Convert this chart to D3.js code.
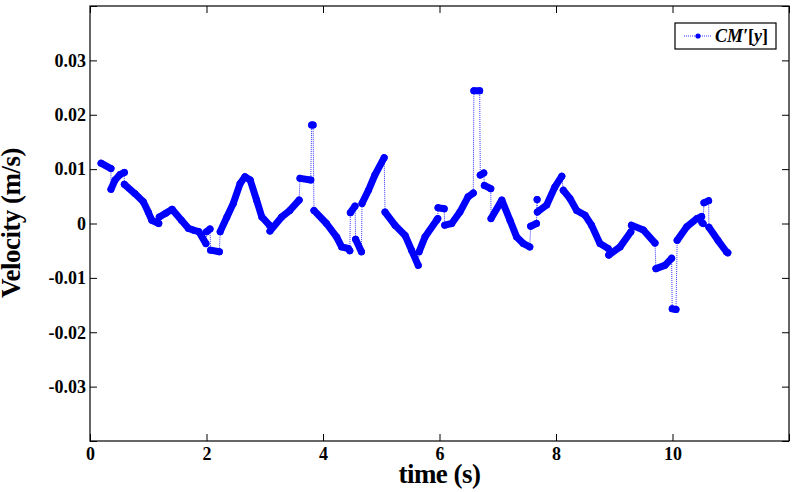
<!DOCTYPE html>
<html>
<head>
<meta charset="utf-8">
<script src="https://cdn.jsdelivr.net/npm/d3@7"></script>
<style>
  body { margin: 0; background: #fff; }
  svg { display: block; }
  text { font-family: "Liberation Serif", "Times New Roman", serif; font-weight: bold; }
</style>
</head>
<body>
<svg id="diagram" width="794" height="492"></svg>
<script>
// time (s), velocity (m/s), and which continuous run each sample belongs to
var time = [
  0.19, 0.36,
  0.36, 0.43, 0.515, 0.59,
  0.59, 0.77, 0.915, 1.00, 1.06, 1.18,
  1.19, 1.30, 1.41, 1.57, 1.69, 1.77, 1.87, 1.99,
  2.00, 2.06,
  2.07, 2.22,
  2.235, 2.35, 2.46, 2.575, 2.66, 2.75, 2.86, 2.95, 3.08,
  3.09, 3.29, 3.43, 3.59,
  3.605, 3.79,
  3.805, 3.83,
  3.845, 4.06, 4.235, 4.32, 4.435, 4.46,
  4.47, 4.55,
  4.56, 4.66,
  4.67, 4.78, 4.89, 5.05,
  5.065, 5.235, 5.41, 5.52, 5.635,
  5.65, 5.75, 5.95, 5.97,
  5.975, 6.08,
  6.09, 6.21, 6.35, 6.49, 6.58,
  6.59, 6.69,
  6.70, 6.76,
  6.77, 6.88,
  6.885, 7.07, 7.21, 7.325, 7.44, 7.55,
  7.565, 7.665,
  7.675,
  7.68, 7.84, 7.98, 8.10,
  8.125, 8.24, 8.355, 8.50, 8.61, 8.755, 8.895,
  8.905, 9.10, 9.285,
  9.295, 9.50, 9.70,
  9.715, 9.87, 9.985,
  9.995, 10.06,
  10.08, 10.245, 10.42, 10.50,
  10.505, 10.525,
  10.54, 10.62,
  10.625, 10.78, 10.925, 10.95
];
var velocity = [
  0.0111, 0.0101,
  0.0063, 0.0080, 0.0090, 0.0094,
  0.0072, 0.0055, 0.0040, 0.0021, 0.0006, 0.0000,
  0.0012, 0.0019, 0.0026, 0.0006, -0.0009, -0.0012, -0.0015, -0.0037,
  -0.0015, -0.0010,
  -0.0049, -0.0052,
  -0.0015, 0.0012, 0.0037, 0.0073, 0.0086, 0.0080, 0.0043, 0.0012, -0.0003,
  -0.0014, 0.0012, 0.0024, 0.0043,
  0.0083, 0.0080,
  0.0181, 0.0181,
  0.0024, 0.0000, -0.0025, -0.0043, -0.0046, -0.0050,
  0.0020, 0.0032,
  -0.0029, -0.0052,
  0.0037, 0.0061, 0.0089, 0.0121,
  0.0021, -0.0003, -0.0022, -0.0049, -0.0077,
  -0.0052, -0.0025, 0.0006, 0.0009,
  0.0029, 0.0027,
  -0.0003, 0.0000, 0.0021, 0.0049, 0.0056,
  0.0244, 0.0244,
  0.0089, 0.0093,
  0.0070, 0.0064,
  0.0009, 0.0043, 0.0006, -0.0025, -0.0037, -0.0043,
  -0.0005, 0.0000,
  0.0044,
  0.0021, 0.0034, 0.0067, 0.0087,
  0.0061, 0.0046, 0.0024, 0.0015, -0.0003, -0.0037, -0.0046,
  -0.0058, -0.0043, -0.0015,
  -0.0003, -0.0012, -0.0036,
  -0.0083, -0.0077, -0.0064,
  -0.0157, -0.0158,
  -0.0031, -0.0006, 0.0009, 0.0013,
  0.0002, 0.0000,
  0.0038, 0.0042,
  -0.0007, -0.0031, -0.0052, -0.0054
];
var segment = [
  0, 0,
  1, 1, 1, 1,
  2, 2, 2, 2, 2, 2,
  3, 3, 3, 3, 3, 3, 3, 3,
  4, 4,
  5, 5,
  6, 6, 6, 6, 6, 6, 6, 6, 6,
  7, 7, 7, 7,
  8, 8,
  9, 9,
  10, 10, 10, 10, 10, 10,
  11, 11,
  12, 12,
  13, 13, 13, 13,
  14, 14, 14, 14, 14,
  15, 15, 15, 15,
  16, 16,
  17, 17, 17, 17, 17,
  18, 18,
  19, 19,
  20, 20,
  21, 21, 21, 21, 21, 21,
  22, 22,
  23,
  24, 24, 24, 24,
  25, 25, 25, 25, 25, 25, 25,
  26, 26, 26,
  27, 27, 27,
  28, 28, 28,
  29, 29,
  30, 30, 30, 30,
  31, 31,
  32, 32,
  33, 33, 33, 33
];

var xTicks = [0, 2, 4, 6, 8, 10, 12];
var xTickLabels = ['0', '2', '4', '6', '8', '10', ''];
var yTicks = [-0.04, -0.03, -0.02, -0.01, 0, 0.01, 0.02, 0.03, 0.04];
var yTickLabels = ['', '-0.03', '-0.02', '-0.01', '0', '0.01', '0.02', '0.03', ''];

drawChart();

function drawChart() {
    var svg = d3.select("#diagram");
    var plotLeft = 90, plotRight = 789, plotTop = 6, plotBottom = 441;
    var blue = "#0000ff";

    var xScale = d3.scaleLinear().domain([0, 12]).range([plotLeft, plotRight]);
    var yScale = d3.scaleLinear().domain([-0.04, 0.04]).range([plotBottom, plotTop]);

    var points = time.map(function (t, i) {
        return { t: t, v: velocity[i], s: segment[i] };
    });
    var runs = d3.groups(points, function (d) { return d.s; }).map(function (g) { return g[1]; });

    var line = d3.line()
        .x(function (d) { return xScale(d.t); })
        .y(function (d) { return yScale(d.v); });

    // thin dotted connector (shows up at the jumps)
    svg.append("path")
        .datum(points)
        .attr("d", line)
        .attr("fill", "none")
        .attr("stroke", blue)
        .attr("stroke-width", 0.8)
        .attr("stroke-dasharray", "1,1");

    // dense dot markers look like a thick line
    svg.selectAll(".run")
        .data(runs)
        .enter().append("path")
        .attr("class", "run")
        .attr("d", line)
        .attr("fill", "none")
        .attr("stroke", blue)
        .attr("stroke-width", 7)
        .attr("stroke-linecap", "round")
        .attr("stroke-linejoin", "round");

    svg.selectAll(".dot")
        .data(points)
        .enter().append("circle")
        .attr("class", "dot")
        .attr("cx", function (d) { return xScale(d.t); })
        .attr("cy", function (d) { return yScale(d.v); })
        .attr("r", 3.5)
        .attr("fill", blue);

    // axes, ticks pointing inward
    function fmtX(d) { return xTickLabels[xTicks.indexOf(d)]; }
    function fmtY(d) {
        return yTickLabels[yTicks.findIndex(function (v) { return Math.abs(v - d) < 1e-9; })];
    }

    svg.append("g")
        .attr("transform", "translate(0," + plotBottom + ")")
        .call(d3.axisBottom(xScale).tickValues(xTicks).tickFormat(fmtX)
            .tickSizeInner(-7).tickSizeOuter(0).tickPadding(6));
    svg.append("g")
        .attr("transform", "translate(0," + plotTop + ")")
        .call(d3.axisTop(xScale).tickValues(xTicks).tickFormat("")
            .tickSizeInner(-7).tickSizeOuter(0));
    svg.append("g")
        .attr("transform", "translate(" + plotLeft + ",0)")
        .call(d3.axisLeft(yScale).tickValues(yTicks).tickFormat(fmtY)
            .tickSizeInner(-7).tickSizeOuter(0).tickPadding(4));
    svg.append("g")
        .attr("transform", "translate(" + plotRight + ",0)")
        .call(d3.axisRight(yScale).tickValues(yTicks).tickFormat("")
            .tickSizeInner(-7).tickSizeOuter(0));

    svg.selectAll(".domain").remove();
    svg.selectAll(".tick line").attr("stroke", "#000").attr("stroke-width", 1);
    svg.selectAll(".tick text")
        .attr("fill", "#000")
        .attr("font-family", '"Liberation Serif", serif')
        .attr("font-weight", "bold")
        .attr("font-size", 18);

    svg.append("rect")
        .attr("x", plotLeft).attr("y", plotTop)
        .attr("width", plotRight - plotLeft).attr("height", plotBottom - plotTop)
        .attr("fill", "none")
        .attr("stroke", "#000")
        .attr("stroke-width", 1.2);

    // axis titles
    svg.append("text")
        .attr("x", (plotLeft + plotRight) / 2)
        .attr("y", 483)
        .attr("text-anchor", "middle")
        .style("font-size", "27px")
        .style("letter-spacing", "-0.5px")
        .text("time (s)");

    svg.append("text")
        .attr("transform", "translate(20,223) rotate(-90)")
        .attr("text-anchor", "middle")
        .style("font-size", "27px")
        .style("letter-spacing", "-0.5px")
        .text("Velocity (m/s)");

    // legend
    var lg = svg.append("g");
    lg.append("rect")
        .attr("x", 675).attr("y", 23)
        .attr("width", 101).attr("height", 26)
        .attr("fill", "#fff")
        .attr("stroke", "#000")
        .attr("stroke-width", 1.2);
    lg.append("line")
        .attr("x1", 684).attr("x2", 712)
        .attr("y1", 36).attr("y2", 36)
        .attr("stroke", blue)
        .attr("stroke-width", 0.8)
        .attr("stroke-dasharray", "1,1");
    lg.append("circle")
        .attr("cx", 698).attr("cy", 36).attr("r", 2.6)
        .attr("fill", blue);
    var lt = lg.append("text")
        .attr("x", 715).attr("y", 42)
        .style("font-size", "18px");
    lt.append("tspan").style("font-style", "italic").text("CM′");
    lt.append("tspan").text("[");
    lt.append("tspan").style("font-style", "italic").text("y");
    lt.append("tspan").text("]");
}
</script>
</body>
</html>
